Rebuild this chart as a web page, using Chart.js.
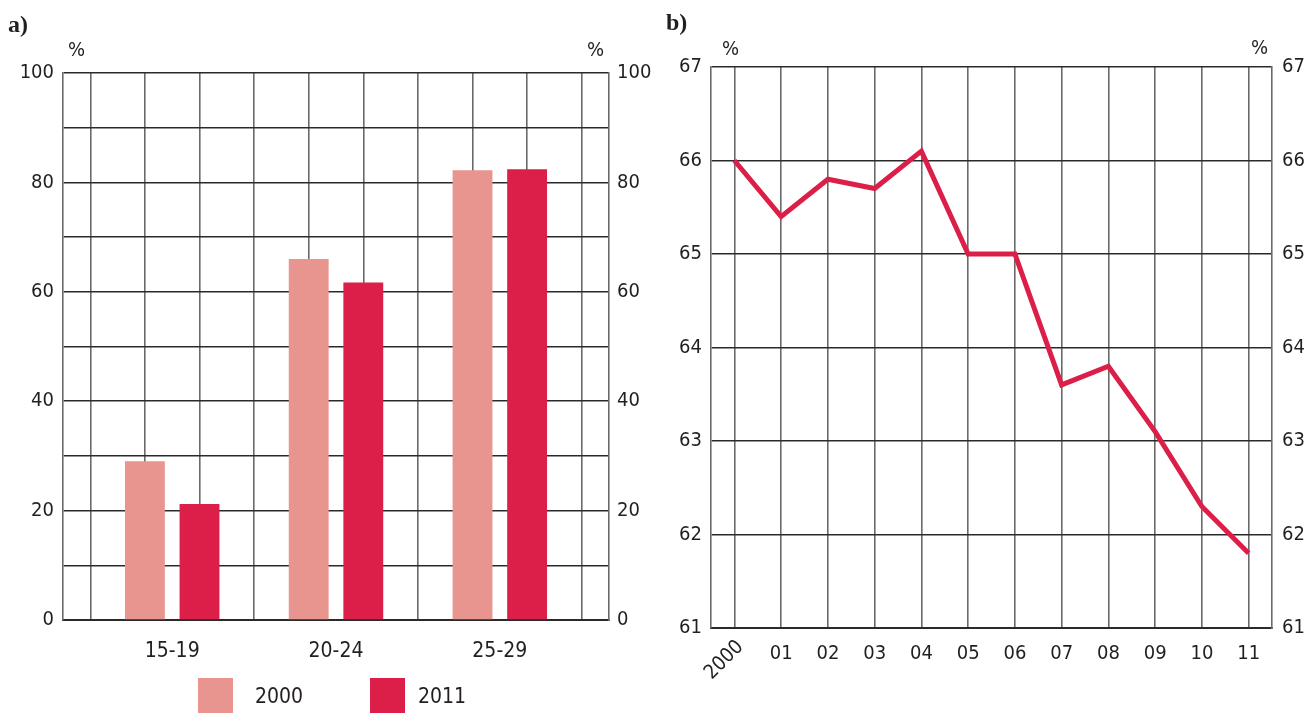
<!DOCTYPE html>
<html>
<head>
<meta charset="utf-8">
<script src="https://cdn.jsdelivr.net/npm/chart.js@4.4.1/dist/chart.umd.min.js"></script>
<style>
  html, body { margin: 0; padding: 0; background: #fff; }
  body { width: 1313px; height: 713px; overflow: hidden; position: relative; }
  canvas { position: absolute; top: 0; }
  #chartA { left: 0; }
  #chartB { left: 650px; }
  .tag { position: absolute; font-family: "Liberation Serif", "DejaVu Serif", serif; font-weight: bold; font-size: 24px; color: #231f20; line-height: 1; }
  .pct { position: absolute; font-family: "DejaVu Sans Condensed", "Liberation Sans", sans-serif; font-size: 20px; color: #231f20; line-height: 1; }
  .legend { position: absolute; top: 678px; left: 0; width: 655px; height: 35px; }
  .legend .sw { position: absolute; top: 0; width: 35px; height: 35px; }
  .legend .tx { position: absolute; top: 8px; font-family: "DejaVu Sans Condensed", "Liberation Sans", sans-serif; font-size: 21px; color: #231f20; line-height: 1; }
</style>
</head>
<body>
<canvas id="chartA" width="655" height="713"></canvas>
<canvas id="chartB" width="663" height="713"></canvas>
<div class="tag" style="left:8px;top:12px;">a)</div>
<div class="tag" style="left:666px;top:10px;">b)</div>
<div class="pct" style="left:68px;top:39px;">%</div>
<div class="pct" style="left:587px;top:39px;">%</div>
<div class="pct" style="left:722px;top:38px;">%</div>
<div class="pct" style="left:1251px;top:37px;">%</div>
<div class="legend" id="legendA"></div>
<script>
// ---------- data ----------
const ageGroups = ['15-19', '20-24', '25-29'];
const seriesNames = ['2000', '2011'];
const share2000 = [29.0, 66.0, 82.2];
const share2011 = [21.2, 61.7, 82.4];
const yTicksA = [0, 20, 40, 60, 80, 100];

const years = ['2000', '01', '02', '03', '04', '05', '06', '07', '08', '09', '10', '11'];
const rate = [66.0, 65.4, 65.8, 65.7, 66.1, 65.0, 65.0, 63.6, 63.8, 63.1, 62.3, 61.8];
const yTicksB = [61, 62, 63, 64, 65, 66, 67];

// ---------- styles ----------
const FONT = '"DejaVu Sans Condensed", "Liberation Sans", sans-serif';
const TEXT = '#231f20';
const DARK = '#2a2a2a';
const GREY = '#6a6a6a';
const PINK = '#e9958f';
const CRIMSON = '#db1f48';

Chart.defaults.font.family = FONT;
Chart.defaults.font.size = 20;
Chart.defaults.color = TEXT;

// ---------- chart a: bar chart ----------
// 10 grid slots; each age group uses two adjacent slots (2000, 2011)
const SLOTS = 10;
const slotLabels = [];
const data2000 = [];
const data2011 = [];
for (let i = 0; i < SLOTS; i++) { slotLabels.push(''); data2000.push(null); data2011.push(null); }
ageGroups.forEach((g, i) => {
  data2000[3 * i + 1] = share2000[i];
  data2011[3 * i + 2] = share2011[i];
});

new Chart(document.getElementById('chartA'), {
  type: 'bar',
  data: {
    labels: slotLabels,
    datasets: [
      { label: seriesNames[0], data: data2000, backgroundColor: PINK, grouped: false, categoryPercentage: 1, barPercentage: 0.73 },
      { label: seriesNames[1], data: data2011, backgroundColor: CRIMSON, grouped: false, categoryPercentage: 1, barPercentage: 0.73 }
    ]
  },
  options: {
    responsive: false,
    animation: false,
    layout: { padding: { top: 73, left: 0, right: 0, bottom: 0 } },
    plugins: { legend: { display: false }, tooltip: { enabled: false } },
    scales: {
      x: {
        type: 'category',
        offset: true,
        grid: { offset: false, color: GREY, lineWidth: 1.6, drawTicks: false },
        border: { display: true, color: DARK, width: 2 },
        ticks: { display: false },
        afterFit: s => { s.height = 0; }
      },
      xl: {
        type: 'linear',
        position: 'bottom',
        offset: false,
        min: -0.5,
        max: SLOTS - 0.5,
        grid: { display: false, offset: false },
        border: { display: false },
        afterBuildTicks: s => { s.ticks = ageGroups.map((g, i) => ({ value: 3 * i + 1.5 })); },
        ticks: { maxRotation: 0, autoSkip: false, padding: 11, font: { size: 21 }, callback: (v, i) => ageGroups[i] },
        afterFit: s => { s.height = 93; }
      },
      y: {
        min: 0, max: 100,
        afterBuildTicks: s => { s.ticks = []; for (let v = 0; v <= 100; v += 10) s.ticks.push({ value: v }); },
        ticks: { padding: 9, callback: v => (yTicksA.includes(v) ? v : '') },
        grid: { color: DARK, lineWidth: 1.5, drawTicks: false },
        border: { display: true, color: GREY, width: 1.6 },
        afterFit: s => { s.width = 63; }
      },
      y2: {
        position: 'right',
        min: 0, max: 100,
        afterBuildTicks: s => { s.ticks = yTicksA.map(v => ({ value: v })); },
        ticks: { padding: 8 },
        grid: { display: false, drawTicks: false },
        border: { display: true, color: GREY, width: 1.6 },
        afterFit: s => { s.width = 46; }
      }
    }
  }
});

// legend for chart a
(function () {
  const leg = document.getElementById('legendA');
  const pos = [{ sw: 198, tx: 255 }, { sw: 370, tx: 418 }];
  const cols = [PINK, CRIMSON];
  seriesNames.forEach((n, i) => {
    const sw = document.createElement('div');
    sw.className = 'sw'; sw.style.left = pos[i].sw + 'px'; sw.style.background = cols[i];
    const tx = document.createElement('div');
    tx.className = 'tx'; tx.style.left = pos[i].tx + 'px'; tx.textContent = n;
    leg.appendChild(sw); leg.appendChild(tx);
  });
})();

// ---------- chart b: line chart ----------
const yearLabelPlugin = {
  id: 'yearLabels',
  afterDraw(chart) {
    const sc = chart.scales.x;
    const ctx = chart.ctx;
    ctx.save();
    ctx.font = '20px ' + FONT;
    ctx.fillStyle = TEXT;
    years.forEach((lab, i) => {
      const x = sc.getPixelForTick(i);
      if (i === 0) {
        ctx.save();
        ctx.translate(x + 6, sc.top + 16);
        ctx.rotate(-Math.PI / 4);
        ctx.textAlign = 'right';
        ctx.textBaseline = 'middle';
        ctx.fillText(lab, 0, 0);
        ctx.restore();
      } else {
        ctx.textAlign = 'center';
        ctx.textBaseline = 'top';
        ctx.fillText(lab, x, sc.top + 16);
      }
    });
    ctx.restore();
  }
};

new Chart(document.getElementById('chartB'), {
  type: 'line',
  data: {
    labels: years,
    datasets: [{
      label: 'b',
      data: rate,
      borderColor: CRIMSON,
      borderWidth: 5,
      pointRadius: 0,
      tension: 0,
      fill: false,
      borderJoinStyle: 'miter'
    }]
  },
  options: {
    responsive: false,
    animation: false,
    layout: { padding: { top: 67, left: 0, right: 0, bottom: 0 } },
    plugins: { legend: { display: false }, tooltip: { enabled: false } },
    scales: {
      x: {
        type: 'category',
        offset: true,
        grid: { offset: false, color: GREY, lineWidth: 1.6, drawTicks: false },
        border: { display: true, color: DARK, width: 2 },
        ticks: { display: false },
        afterFit: s => { s.height = 85; }
      },
      y: {
        min: 61, max: 67,
        afterBuildTicks: s => { s.ticks = yTicksB.map(v => ({ value: v })); },
        ticks: { padding: 9 },
        grid: { color: DARK, lineWidth: 1.5, drawTicks: false },
        border: { display: true, color: GREY, width: 1.6 },
        afterFit: s => { s.width = 61; }
      },
      y2: {
        position: 'right',
        min: 61, max: 67,
        afterBuildTicks: s => { s.ticks = yTicksB.map(v => ({ value: v })); },
        ticks: { padding: 10 },
        grid: { display: false, drawTicks: false },
        border: { display: true, color: GREY, width: 1.6 },
        afterFit: s => { s.width = 41; }
      }
    }
  },
  plugins: [yearLabelPlugin]
});
</script>
</body>
</html>
